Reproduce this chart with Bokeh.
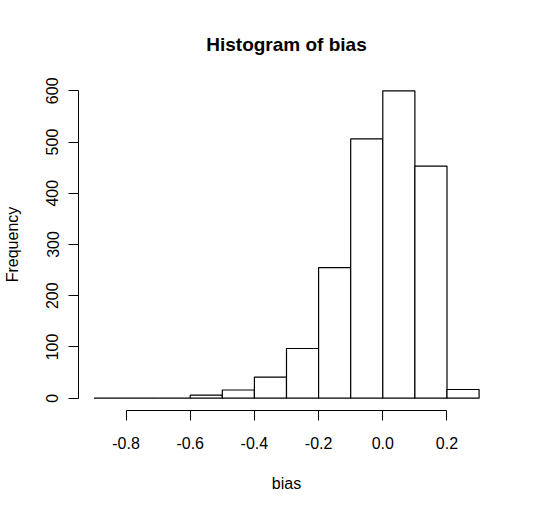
from bokeh.plotting import figure
from bokeh.models import Range1d, FixedTicker
from bokeh.embed import file_html
from bokeh.resources import INLINE

# Histogram bins (left edges / right edges) and counts
bin_left = [-0.9, -0.8, -0.7, -0.6, -0.5, -0.4, -0.3, -0.2, -0.1, 0.0, 0.1, 0.2]
bin_right = [-0.8, -0.7, -0.6, -0.5, -0.4, -0.3, -0.2, -0.1, 0.0, 0.1, 0.2, 0.3]
counts = [0, 0, 0, 6, 16, 41, 97, 255, 506, 600, 453, 17]
x_ticks = [-0.8, -0.6, -0.4, -0.2, 0.0, 0.2]
y_ticks = [0, 100, 200, 300, 400, 500, 600]
title_text = "Histogram of bias"

FONT = "Liberation Sans"

p = figure(width=520, height=494, output_backend="svg", toolbar_location=None,
           x_range=Range1d(-0.948, 0.348), y_range=Range1d(-24, 624),
           min_border_left=77, min_border_right=26, min_border_top=78, min_border_bottom=83,
           title=title_text)
p.outline_line_color = None
p.grid.visible = False
p.background_fill_color = "white"
p.border_fill_color = "white"

p.quad(left=bin_left, right=bin_right, bottom=0, top=counts,
       fill_color="white", line_color="black", line_width=1.2)

p.title.align = "center"
p.title.vertical_align = "top"
p.title.text_font = FONT
p.title.text_font_size = "19px"
p.title.text_font_style = "bold"
p.title.text_color = "black"
p.title.standoff = 44

for ax, ticks, bounds in ((p.xaxis[0], x_ticks, (-0.8, 0.2)), (p.yaxis[0], y_ticks, (0, 600))):
    ax.ticker = FixedTicker(ticks=ticks)
    ax.bounds = bounds
    ax.minor_tick_line_color = None
    ax.major_tick_in = 0
    ax.major_tick_out = 10
    ax.axis_line_color = "black"
    ax.major_tick_line_color = "black"
    ax.major_label_text_font = FONT
    ax.major_label_text_font_size = "16px"
    ax.major_label_text_color = "black"
    ax.axis_label_text_font = FONT
    ax.axis_label_text_font_size = "16px"
    ax.axis_label_text_font_style = "normal"
    ax.axis_label_text_color = "black"

p.xaxis[0].axis_label = "bias"
p.xaxis[0].major_label_standoff = 16
p.xaxis[0].axis_label_standoff = 23
p.xaxis[0].major_label_overrides = {-0.8: "-0.8", -0.6: "-0.6", -0.4: "-0.4", -0.2: "-0.2", 0.0: "0.0", 0.2: "0.2"}

p.yaxis[0].axis_label = "Frequency"
p.yaxis[0].major_label_orientation = "vertical"
p.yaxis[0].major_label_standoff = 10
p.yaxis[0].axis_label_standoff = 23

open("out.html", "w").write(file_html(p, INLINE))
